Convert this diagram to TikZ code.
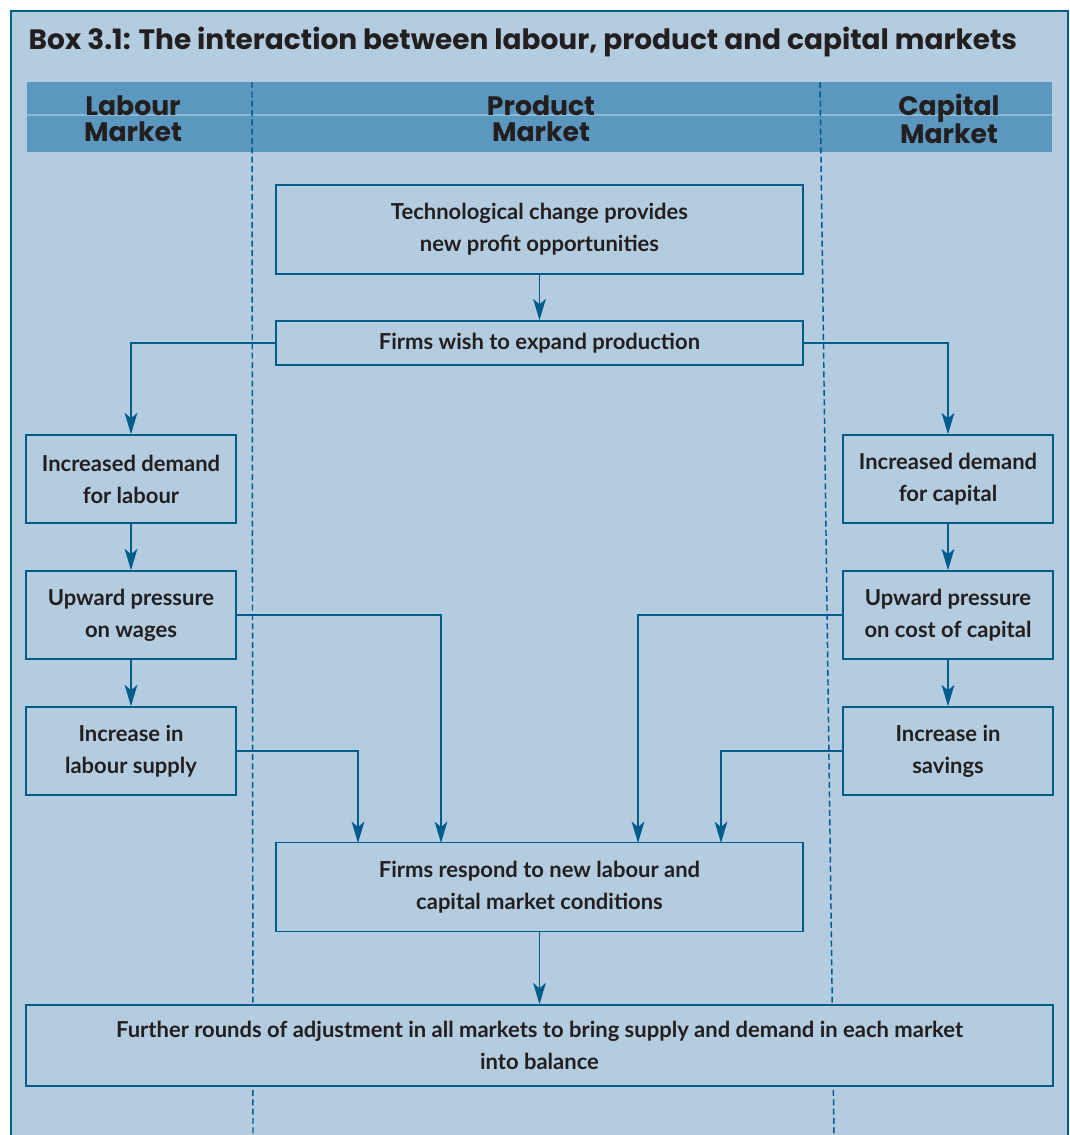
\documentclass[tikz,border=0pt]{standalone}
\usepackage{fontspec}
\setmainfont{Lato}
\newfontfamily\headfont{Poppins}
\usetikzlibrary{arrows.meta, positioning}

\definecolor{boxblue}{HTML}{B4CCE0}
\definecolor{lineblue}{HTML}{005C8A}
\definecolor{bandblue}{HTML}{5B97BE}
\definecolor{bandline}{HTML}{8DB8D6}
\definecolor{inktext}{HTML}{231F20}

\begin{document}
\begin{tikzpicture}[
    x=0.75pt, y=-0.75pt,
    stage/.style={draw=lineblue, fill=boxblue, line width=1.1pt, text=inktext, align=center, inner sep=0pt,
        font=\bfseries\fontsize{16.5}{24}\selectfont},
    wide/.style={stage, minimum width=395.25pt, minimum height=66.75pt},
    side/.style={stage, minimum width=157.5pt, minimum height=66pt},
    heading/.style={text=inktext, align=center, font=\headfont\bfseries\fontsize{20}{19.5}\selectfont},
    flow/.style={draw=lineblue, line width=1.1pt, -{Stealth[length=16pt, width=9.5pt, inset=4pt]}},
    lane/.style={draw=lineblue, line width=1.1pt, dash pattern=on 4.5pt off 2.5pt}
]
    \useasboundingbox (0,0) rectangle (1070,1135);
    \fill[white] (0,0) rectangle (1070,1135);

    % frame and header band
    \fill[boxblue] (11,11) rectangle (1068,1135);
    \draw[lineblue, line width=1.1pt] (11,1135) -- (11,11) -- (1068,11) -- (1068,1135);
    \fill[bandblue] (27,82) rectangle (1052,152);
    \draw[bandline, line width=0.8pt] (27,115) -- (1052,115);

    \node[anchor=west, text=inktext, font=\headfont\bfseries\fontsize{21}{22}\selectfont] (title) at (24,42)
        {Box 3.1: The interaction between labour, product and capital markets};

    % market lanes
    \draw[lane] (252,82) -- (253,1135);
    \draw[lane] (820,82) -- (834,1135);

    \node[heading] (labourhead) at (133,119) {Labour\\Market};
    \node[heading] (producthead) at (541,119) {Product\\Market};
    \node[heading] (capitalhead) at (949,119) {Capital\\Market};

    % product market
    \node[wide] (tech) at (539.5,229.5) {Technological change provides\\new profit opportunities};
    \node[stage, minimum width=395.25pt, minimum height=33pt] (expand) at (539.5,343) {Firms wish to expand production};
    \node[wide] (respond) at (539.5,887) {Firms respond to new labour and\\capital market conditions};
    \node[stage, minimum width=770.25pt, minimum height=60.75pt] (further) at (539.5,1045.5)
        {Further rounds of adjustment in all markets to bring supply and demand in each market\\into balance};

    % labour market
    \node[side] (labdemand) at (131,479) {Increased demand\\for labour};
    \node[side] (wages) at (131,615) {Upward pressure\\on wages};
    \node[side] (labsupply) at (131,751) {Increase in\\labour supply};

    % capital market
    \node[side] (capdemand) at (948,479) {Increased demand\\for capital};
    \node[side] (capcost) at (948,615) {Upward pressure\\on cost of capital};
    \node[side] (savings) at (948,751) {Increase in\\savings};

    \coordinate (inA) at (358,843);
    \coordinate (inB) at (441,843);
    \coordinate (inC) at (638,843);
    \coordinate (inD) at (721,843);

    \draw[flow] (tech) -- (expand);
    \draw[flow] (expand.west) -| (labdemand.north);
    \draw[flow] (expand.east) -| (capdemand.north);
    \draw[flow] (labdemand) -- (wages);
    \draw[flow] (wages) -- (labsupply);
    \draw[flow] (capdemand) -- (capcost);
    \draw[flow] (capcost) -- (savings);
    \draw[flow] (wages.east) -| (inB);
    \draw[flow] (labsupply.east) -| (inA);
    \draw[flow] (capcost.west) -| (inC);
    \draw[flow] (savings.west) -| (inD);
    \draw[flow] (respond) -- (further);
\end{tikzpicture}
\end{document}
